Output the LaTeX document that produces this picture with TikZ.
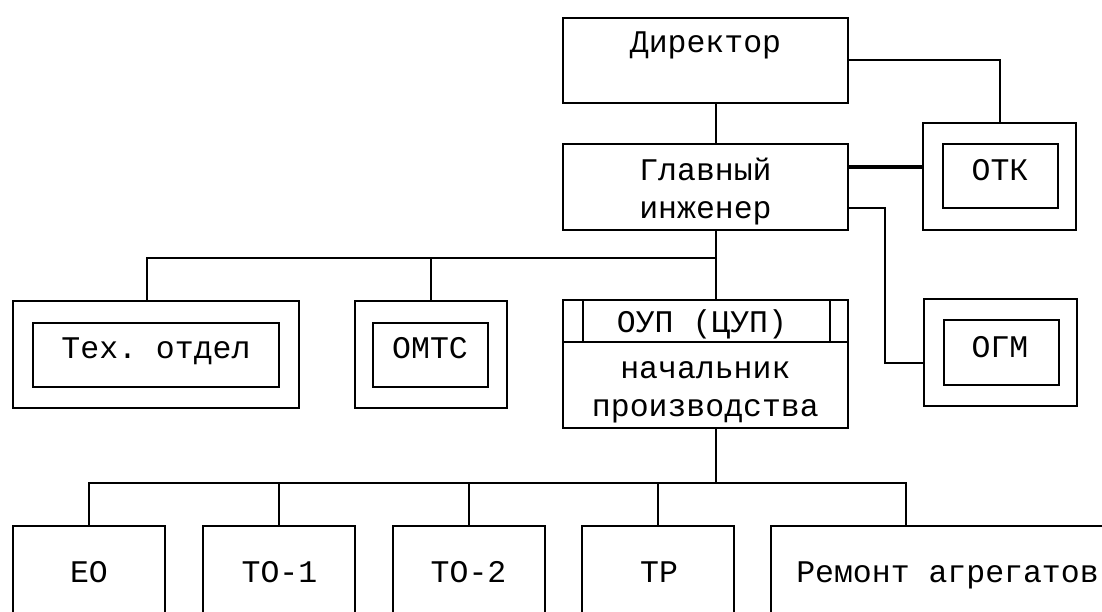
\documentclass[tikz,border=0pt]{standalone}
\usepackage{fontspec}
\setmonofont{Liberation Mono}
\begin{document}
\begin{tikzpicture}[x=1pt,y=-1pt,
  box/.style={draw, line width=2pt, rectangle, inner sep=0pt, outer sep=0pt},
  lbl/.style={anchor=base, inner sep=0pt, font=\ttfamily\fontsize{31.5}{38}\selectfont},
  conn/.style={line width=2pt},
  thickconn/.style={line width=4pt},
  small/.style={box, minimum width=153pt, minimum height=107.5pt},
  smallin/.style={box, minimum width=115pt, minimum height=64pt},
  low/.style={box, minimum width=152pt, minimum height=124pt}]
\useasboundingbox (0,0) rectangle (1102,612);
\clip (0,0) rectangle (1102,612);

% helper coordinates
\coordinate (trunk) at (715.5,0);
\coordinate (bus1) at (0,258);
\coordinate (bus2) at (0,483);
\coordinate (thk) at (0,167.5);
\coordinate (ogmrow) at (0,208.5);
\coordinate (ogmx) at (885,0);
\coordinate (ogmin) at (0,363);
\coordinate (texx) at (147,0);
\coordinate (remx) at (905.6,0);
\coordinate (div) at (0,341.6);
\coordinate (divl) at (583,0);
\coordinate (divr) at (829.6,0);

% top level
\node[box, minimum width=285pt, minimum height=85pt] (dir) at (705.5,60.5) {};
\node[lbl] (tdir) at (705.5,53) {Директор};
\node[box, minimum width=285pt, minimum height=85.5pt] (gl) at (705.5,187) {};
\node[lbl] (tgl1) at (705.5,181) {Главный};
\node[lbl] (tgl2) at (705.5,219) {инженер};

% OTK
\node[box, minimum width=153pt, minimum height=106.5pt] (otko) at (999.7,176.3) {};
\node[smallin, minimum height=63.3pt] (otki) at (1000.6,176) {};
\node[lbl] (totk) at (1000,181) {ОТК};

% OGM
\node[small] (ogmo) at (1000,352.4) {};
\node[smallin, minimum height=64.7pt] (ogmi) at (1001.3,352.3) {};
\node[lbl] (togm) at (1000,357) {ОГМ};

% second row
\node[box, minimum width=286.4pt, minimum height=107.5pt] (texo) at (156.1,354.5) {};
\node[box, minimum width=246.4pt, minimum height=64.2pt] (texi) at (156.1,355) {};
\node[lbl] (ttex) at (156,358) {Тех. отдел};

\node[box, minimum width=152.5pt, minimum height=107.5pt] (omtso) at (430.9,354.5) {};
\node[box, minimum width=114.3pt, minimum height=64.2pt] (omtsi) at (430.4,355) {};
\node[lbl] (tomts) at (430,358) {ОМТС};

\node[box, minimum width=284.2pt, minimum height=128pt] (oup) at (705.4,364) {};
\draw[conn] (oup.west |- div) -- (oup.east |- div);
\draw[conn] (oup.north -| divl) -- (divl |- div);
\draw[conn] (oup.north -| divr) -- (divr |- div);
\node[lbl] (toup1) at (702,332) {ОУП (ЦУП)};
\node[lbl] (toup2) at (705.4,378) {начальник};
\node[lbl] (toup3) at (705.4,416) {производства};

% bottom row
\node[low] (eo) at (89,588) {};
\node[lbl] (teo) at (89,582) {ЕО};
\node[low] (to1) at (279,588) {};
\node[lbl] (tto1) at (279.5,582) {ТО-1};
\node[low] (to2) at (469,588) {};
\node[lbl] (tto2) at (468.5,582) {ТО-2};
\node[low] (tr) at (658.3,588) {};
\node[lbl] (ttr) at (659,582) {ТР};
\node[box, minimum width=353pt, minimum height=124pt] (rem) at (947.5,588) {};
\node[lbl] (trem) at (947.5,582) {Ремонт агрегатов};

% connectors
\draw[conn] (dir.south -| trunk) -- (gl.north -| trunk);
\draw[conn] (dir.east) -| (otko.north);
\draw[thickconn] (gl.east |- thk) -- (otko.west |- thk);
\draw[conn] (gl.east |- ogmrow) -| (ogmx |- ogmin) -- (ogmo.west |- ogmin);
\draw[conn] (gl.south -| trunk) -- (trunk |- bus1);
\draw[conn] (texo.north -| texx) |- (trunk |- bus1);
\draw[conn] (omtso.north) -- (omtso.north |- bus1);
\draw[conn] (oup.north -| trunk) -- (trunk |- bus1);
\draw[conn] (oup.south -| trunk) -- (trunk |- bus2);
\draw[conn] (eo.north) |- (remx |- bus2) -- (rem.north -| remx);
\draw[conn] (to1.north) -- (to1.north |- bus2);
\draw[conn] (to2.north) -- (to2.north |- bus2);
\draw[conn] (tr.north) -- (tr.north |- bus2);
\end{tikzpicture}
\end{document}
